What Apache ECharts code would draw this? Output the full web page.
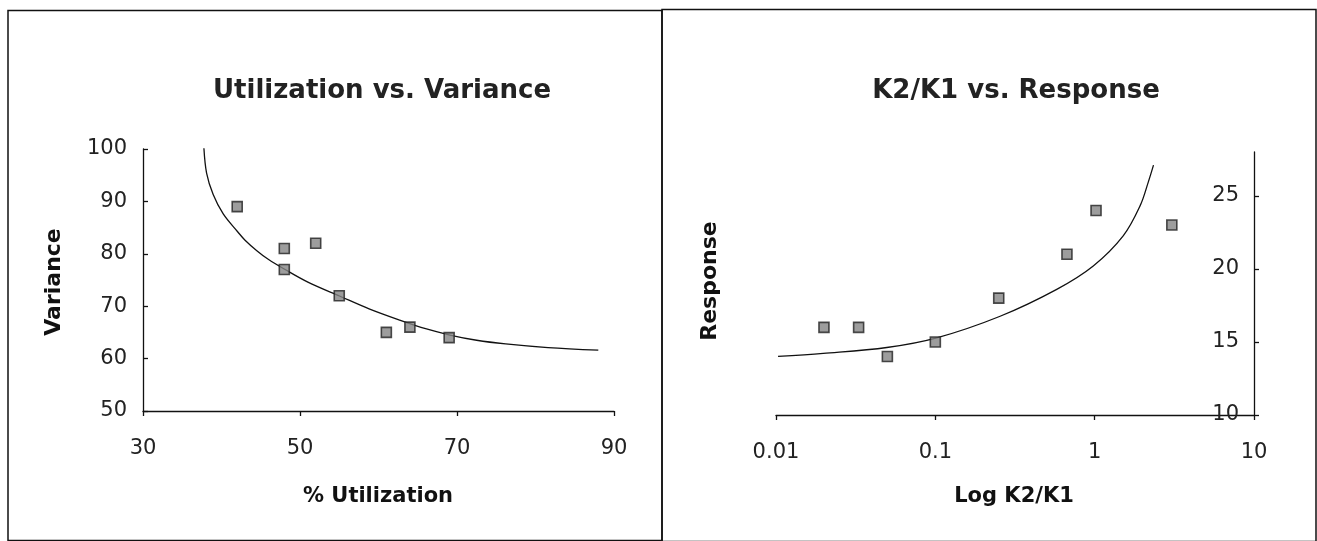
<!DOCTYPE html>
<html>
<head>
<meta charset="utf-8">
<script src="https://cdn.jsdelivr.net/npm/echarts@6/dist/echarts.min.js"></script>
<style>
html,body{margin:0;padding:0;background:#fff;}
#c{width:1317px;height:541px;}
</style>
</head>
<body>
<div id="c"></div>
<script>
// Left chart: Utilization vs. Variance
const utilPoints = [[42,89],[48,81],[48,77],[52,82],[55,72],[61,65],[64,66],[69,64]];
const utilCurve = [[37.75,100.4],[38.1,95.4],[38.94,91.3],[40.22,87.6],[42,84.3],[43,82.6],[44.5,80.6],[46,78.9],[48.1,77.0],[51,74.6],[55.1,71.9],[58.8,69.5],[62.8,67.3],[66,65.7],[69.1,64.5],[72.5,63.5],[76.2,62.8],[81.6,62.1],[88,61.6]];
const utilXTicks = [30, 50, 70, 90];
const utilYTicks = [50, 60, 70, 80, 90, 100];

// Right chart: K2/K1 vs. Response
const kPoints = [[0.02,16],[0.033,16],[0.05,14],[0.1,15],[0.25,18],[0.67,21],[1.02,24],[3.05,23]];
const kCurve = [[0.0103,14.01],[0.0198,14.22],[0.0496,14.62],[0.102,15.28],[0.255,16.76],[0.578,18.6],[0.98,20.2],[1.51,22.26],[1.93,24.33],[2.17,25.94],[2.34,27.1]];
const kXTicks = [0.01, 0.1, 1, 10];
const kYTicks = [10, 15, 20, 25];

const FONT = '"DejaVu Sans"';
const chart = echarts.init(document.getElementById('c'));
const axisLine = {lineStyle:{color:'#111', width:1.3}};
const tickLine = {color:'#111', width:1.3};
const labelStyle = {fontFamily: FONT, fontSize: 21, color:'#222', fontWeight: 'normal'};
const markStyle = {color:'#858585', borderColor:'#222', borderWidth:1.6};

chart.setOption({
  animation:false,
  title:[
    {text:'Utilization vs. Variance', left:377, top:73, textAlign:'center',
     textStyle:{fontFamily:FONT, fontSize:26, fontWeight:'bold', color:'#222'}},
    {text:'K2/K1 vs. Response', left:1011, top:73, textAlign:'center',
     textStyle:{fontFamily:FONT, fontSize:26, fontWeight:'bold', color:'#222'}}
  ],
  graphic:[
    {type:'rect', shape:{x:8, y:10.5, width:654, height:530}, style:{fill:'none', stroke:'#111', lineWidth:1.5}},
    {type:'rect', shape:{x:662, y:9.5, width:654, height:532}, style:{fill:'none', stroke:'#111', lineWidth:1.5}},
    {type:'text', x:54, y:282, rotation:Math.PI/2, style:{text:'Variance', font:'bold 22px '+FONT, fill:'#111', align:'center', verticalAlign:'middle'}},
    {type:'text', x:378, y:497, style:{text:'% Utilization', font:'bold 21px '+FONT, fill:'#111', align:'center', verticalAlign:'middle'}},
    {type:'text', x:710, y:281, rotation:Math.PI/2, style:{text:'Response', font:'bold 22px '+FONT, fill:'#111', align:'center', verticalAlign:'middle'}},
    {type:'text', x:1014, y:497, style:{text:'Log K2/K1', font:'bold 21px '+FONT, fill:'#111', align:'center', verticalAlign:'middle'}}
  ],
  grid:[
    {left:143, top:149, width:471, height:262},
    {left:776, top:152, width:478, height:263}
  ],
  xAxis:[
    {type:'value', gridIndex:0, min:30, max:90, interval:20,
     axisLine:axisLine, axisTick:{show:true, length:5, lineStyle:tickLine},
     axisLabel:Object.assign({margin:27}, labelStyle), splitLine:{show:false}},
    {type:'log', gridIndex:1, logBase:10, min:0.01, max:10,
     axisLine:axisLine, axisTick:{show:true, length:5, lineStyle:tickLine},
     axisLabel:Object.assign({margin:27, formatter:function(v){return String(+(+v).toPrecision(2));}}, labelStyle),
     splitLine:{show:false}, minorTick:{show:false}}
  ],
  yAxis:[
    {type:'value', gridIndex:0, min:50, max:100, interval:10,
     axisLine:Object.assign({show:true}, axisLine), axisTick:{show:true, length:5, inside:true, lineStyle:tickLine},
     axisLabel:Object.assign({margin:16}, labelStyle), splitLine:{show:false}},
    {type:'value', gridIndex:1, position:'right', min:10, max:28,
     axisLine:Object.assign({show:true}, axisLine),
     axisTick:{show:true, length:5, lineStyle:tickLine, customValues:kYTicks},
     axisLabel:Object.assign({inside:true, margin:15, customValues:kYTicks}, labelStyle), splitLine:{show:false}}
  ],
  series:[
    {type:'line', xAxisIndex:0, yAxisIndex:0, data:utilCurve, smooth:0.35, showSymbol:false, symbol:'none',
     lineStyle:{color:'#111', width:1.3}, z:2},
    {type:'scatter', xAxisIndex:0, yAxisIndex:0, data:utilPoints, symbol:'rect', symbolSize:10, itemStyle:markStyle, z:3},
    {type:'line', xAxisIndex:1, yAxisIndex:1, data:kCurve, smooth:0.35, showSymbol:false, symbol:'none',
     lineStyle:{color:'#111', width:1.3}, z:2},
    {type:'scatter', xAxisIndex:1, yAxisIndex:1, data:kPoints, symbol:'rect', symbolSize:10, itemStyle:markStyle, z:3}
  ]
});
</script>
</body>
</html>
